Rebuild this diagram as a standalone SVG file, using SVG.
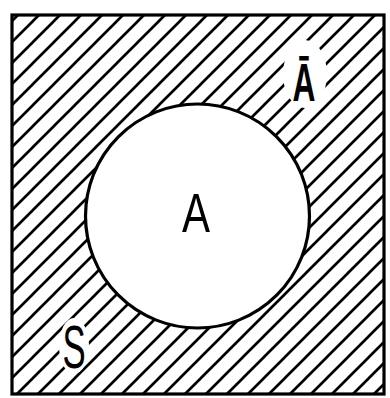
<svg xmlns="http://www.w3.org/2000/svg" width="390" height="398" viewBox="0 0 390 398">
  <style>
    .edge { fill: none; stroke: #000; stroke-width: 3.2; }
    .lbl { font-family: "Liberation Sans", Arial, sans-serif; fill: #000; }
  </style>
  <defs>
    <pattern id="hatch" patternUnits="userSpaceOnUse" x="12" y="0" width="21" height="21">
      <path d="M-2,2 L2,-2 M0,21 L21,0 M19,23 L23,19" stroke="#000" stroke-width="2.7" fill="none"/>
    </pattern>
    <mask id="m">
      <rect x="12" y="15" width="372" height="379" fill="#fff"/>
      <circle cx="197.5" cy="216" r="112" fill="#000"/>
      <ellipse cx="305" cy="74" rx="22" ry="34" fill="#000"/>
      <ellipse cx="74" cy="346" rx="15" ry="28" fill="#000"/>
    </mask>
  </defs>
  <rect x="0" y="0" width="390" height="398" fill="#fff"/>
  <g id="S">
    <rect x="12" y="15" width="372" height="379" fill="url(#hatch)" mask="url(#m)"/>
    <rect class="edge" x="12" y="15" width="372" height="379"/>
    <text class="lbl" transform="translate(74,368) scale(0.56,1)" font-size="62" text-anchor="middle">S</text>
  </g>
  <g id="A">
    <circle class="edge" cx="197.5" cy="216" r="112"/>
    <text class="lbl" transform="translate(196,232) scale(0.75,1)" font-size="56" text-anchor="middle">A</text>
  </g>
  <g id="notA">
    <text class="lbl" transform="translate(304,101) scale(0.6,1)" font-size="53" font-weight="bold" text-anchor="middle">Ā</text>
  </g>
  <g id="connectors"></g>
</svg>
